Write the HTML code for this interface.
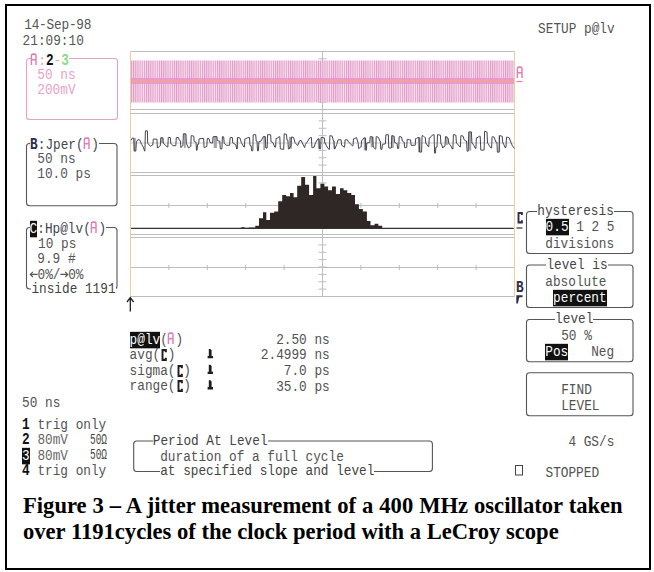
<!DOCTYPE html>
<html><head><meta charset="utf-8"><style>
html,body{margin:0;padding:0;background:#fff;width:654px;height:572px;overflow:hidden}
#frame{position:absolute;left:5px;top:4px;width:642px;height:562px;border:2px solid #000}
svg{position:absolute;left:0;top:0}
.t{position:absolute;font-family:"Liberation Mono",monospace;font-size:12.75px;line-height:12.75px;white-space:pre;transform:scaleY(1.1);transform-origin:0 9.77px}
.t b{font-weight:bold}
.inv{background:#111;color:#fff}
.g{position:relative;display:inline-block;width:1ch}
.bb{display:inline-block;transform:scaleY(1.14);transform-origin:50% 9.77px}
.cap{position:absolute;left:23px;font-family:"Liberation Serif",serif;font-weight:bold;font-size:22.6px;white-space:pre;color:#000;line-height:26px}
</style></head><body>
<div id="frame"></div>
<svg width="654" height="572" viewBox="0 0 654 572">
<line x1="130.5" y1="51.5" x2="514.5" y2="51.5" stroke="#bdbdbd" stroke-width="1" />
<line x1="130.5" y1="109.5" x2="514.5" y2="109.5" stroke="#bdbdbd" stroke-width="1" />
<line x1="318.5" y1="58.75" x2="326.5" y2="58.75" stroke="#bdbdbd" stroke-width="1" />
<line x1="318.5" y1="66.0" x2="326.5" y2="66.0" stroke="#bdbdbd" stroke-width="1" />
<line x1="318.5" y1="73.25" x2="326.5" y2="73.25" stroke="#bdbdbd" stroke-width="1" />
<line x1="318.5" y1="80.5" x2="326.5" y2="80.5" stroke="#bdbdbd" stroke-width="1" />
<line x1="318.5" y1="87.75" x2="326.5" y2="87.75" stroke="#bdbdbd" stroke-width="1" />
<line x1="318.5" y1="95.0" x2="326.5" y2="95.0" stroke="#bdbdbd" stroke-width="1" />
<line x1="318.5" y1="102.25" x2="326.5" y2="102.25" stroke="#bdbdbd" stroke-width="1" />
<line x1="130.5" y1="113.5" x2="514.5" y2="113.5" stroke="#bdbdbd" stroke-width="1" />
<line x1="130.5" y1="172.5" x2="514.5" y2="172.5" stroke="#bdbdbd" stroke-width="1" />
<line x1="318.5" y1="120.875" x2="326.5" y2="120.875" stroke="#bdbdbd" stroke-width="1" />
<line x1="318.5" y1="128.25" x2="326.5" y2="128.25" stroke="#bdbdbd" stroke-width="1" />
<line x1="318.5" y1="135.625" x2="326.5" y2="135.625" stroke="#bdbdbd" stroke-width="1" />
<line x1="318.5" y1="143.0" x2="326.5" y2="143.0" stroke="#bdbdbd" stroke-width="1" />
<line x1="318.5" y1="150.375" x2="326.5" y2="150.375" stroke="#bdbdbd" stroke-width="1" />
<line x1="318.5" y1="157.75" x2="326.5" y2="157.75" stroke="#bdbdbd" stroke-width="1" />
<line x1="318.5" y1="165.125" x2="326.5" y2="165.125" stroke="#bdbdbd" stroke-width="1" />
<line x1="130.5" y1="175.5" x2="514.5" y2="175.5" stroke="#bdbdbd" stroke-width="1" />
<line x1="130.5" y1="234.5" x2="514.5" y2="234.5" stroke="#bdbdbd" stroke-width="1" />
<line x1="318.5" y1="182.875" x2="326.5" y2="182.875" stroke="#bdbdbd" stroke-width="1" />
<line x1="318.5" y1="190.25" x2="326.5" y2="190.25" stroke="#bdbdbd" stroke-width="1" />
<line x1="318.5" y1="197.625" x2="326.5" y2="197.625" stroke="#bdbdbd" stroke-width="1" />
<line x1="318.5" y1="205.0" x2="326.5" y2="205.0" stroke="#bdbdbd" stroke-width="1" />
<line x1="318.5" y1="212.375" x2="326.5" y2="212.375" stroke="#bdbdbd" stroke-width="1" />
<line x1="318.5" y1="219.75" x2="326.5" y2="219.75" stroke="#bdbdbd" stroke-width="1" />
<line x1="318.5" y1="227.125" x2="326.5" y2="227.125" stroke="#bdbdbd" stroke-width="1" />
<line x1="130.5" y1="237.5" x2="514.5" y2="237.5" stroke="#bdbdbd" stroke-width="1" />
<line x1="130.5" y1="296.5" x2="514.5" y2="296.5" stroke="#bdbdbd" stroke-width="1" />
<line x1="318.5" y1="244.875" x2="326.5" y2="244.875" stroke="#bdbdbd" stroke-width="1" />
<line x1="318.5" y1="252.25" x2="326.5" y2="252.25" stroke="#bdbdbd" stroke-width="1" />
<line x1="318.5" y1="259.625" x2="326.5" y2="259.625" stroke="#bdbdbd" stroke-width="1" />
<line x1="318.5" y1="267.0" x2="326.5" y2="267.0" stroke="#bdbdbd" stroke-width="1" />
<line x1="318.5" y1="274.375" x2="326.5" y2="274.375" stroke="#bdbdbd" stroke-width="1" />
<line x1="318.5" y1="281.75" x2="326.5" y2="281.75" stroke="#bdbdbd" stroke-width="1" />
<line x1="318.5" y1="289.125" x2="326.5" y2="289.125" stroke="#bdbdbd" stroke-width="1" />
<line x1="322.5" y1="51" x2="322.5" y2="297" stroke="#bdbdbd" stroke-width="1" />
<line x1="130.5" y1="205.5" x2="514.5" y2="205.5" stroke="#bdbdbd" stroke-width="1" />
<line x1="168.9" y1="203.0" x2="168.9" y2="208.0" stroke="#bdbdbd" stroke-width="1" />
<line x1="207.3" y1="203.0" x2="207.3" y2="208.0" stroke="#bdbdbd" stroke-width="1" />
<line x1="245.7" y1="203.0" x2="245.7" y2="208.0" stroke="#bdbdbd" stroke-width="1" />
<line x1="284.1" y1="203.0" x2="284.1" y2="208.0" stroke="#bdbdbd" stroke-width="1" />
<line x1="322.5" y1="203.0" x2="322.5" y2="208.0" stroke="#bdbdbd" stroke-width="1" />
<line x1="360.9" y1="203.0" x2="360.9" y2="208.0" stroke="#bdbdbd" stroke-width="1" />
<line x1="399.3" y1="203.0" x2="399.3" y2="208.0" stroke="#bdbdbd" stroke-width="1" />
<line x1="437.7" y1="203.0" x2="437.7" y2="208.0" stroke="#bdbdbd" stroke-width="1" />
<line x1="476.09999999999997" y1="203.0" x2="476.09999999999997" y2="208.0" stroke="#bdbdbd" stroke-width="1" />
<line x1="130.5" y1="267.5" x2="514.5" y2="267.5" stroke="#bdbdbd" stroke-width="1" />
<line x1="168.9" y1="265.0" x2="168.9" y2="270.0" stroke="#bdbdbd" stroke-width="1" />
<line x1="207.3" y1="265.0" x2="207.3" y2="270.0" stroke="#bdbdbd" stroke-width="1" />
<line x1="245.7" y1="265.0" x2="245.7" y2="270.0" stroke="#bdbdbd" stroke-width="1" />
<line x1="284.1" y1="265.0" x2="284.1" y2="270.0" stroke="#bdbdbd" stroke-width="1" />
<line x1="322.5" y1="265.0" x2="322.5" y2="270.0" stroke="#bdbdbd" stroke-width="1" />
<line x1="360.9" y1="265.0" x2="360.9" y2="270.0" stroke="#bdbdbd" stroke-width="1" />
<line x1="399.3" y1="265.0" x2="399.3" y2="270.0" stroke="#bdbdbd" stroke-width="1" />
<line x1="437.7" y1="265.0" x2="437.7" y2="270.0" stroke="#bdbdbd" stroke-width="1" />
<line x1="476.09999999999997" y1="265.0" x2="476.09999999999997" y2="270.0" stroke="#bdbdbd" stroke-width="1" />
<line x1="130.5" y1="51" x2="130.5" y2="297" stroke="#e9cfa2" stroke-width="1" />
<line x1="514.5" y1="51" x2="514.5" y2="297" stroke="#e9cfa2" stroke-width="1" />
<defs><pattern id="st" x="131" width="2.15" height="10" patternUnits="userSpaceOnUse"><rect width="2.15" height="10" fill="#fadcec"/><rect width="1" height="10" fill="#dc9cc8"/></pattern></defs>
<rect x="131" y="60.5" width="383" height="42" fill="url(#st)"/>
<rect x="131" y="78" width="383" height="6" fill="#ea8ec4" opacity="0.75"/>
<rect x="131" y="80.2" width="383" height="1.6" fill="#f2a68e" opacity="0.85"/>
<line x1="516.5" y1="81.5" x2="522.5" y2="81.5" stroke="#e27fb6" stroke-width="1.2" />
<line x1="131" y1="143" x2="514" y2="143" stroke="#bdbdbd" stroke-width="0.8" />
<rect x="133.7" y="138.0" width="2.1" height="13.0" fill="#a4a4ac"/>
<rect x="161.2" y="137.6" width="1.8" height="5.4" fill="#a4a4ac"/>
<rect x="183.9" y="133.8" width="1.8" height="14.2" fill="#a4a4ac"/>
<rect x="213.7" y="136.6" width="3.2" height="11.4" fill="#a4a4ac"/>
<rect x="236.7" y="137.5" width="1.4" height="11.4" fill="#a4a4ac"/>
<rect x="263.3" y="136.6" width="1.8" height="13.3" fill="#a4a4ac"/>
<rect x="289.0" y="137.0" width="2.8" height="11.9" fill="#a4a4ac"/>
<rect x="317.9" y="138.8" width="1.8" height="10.1" fill="#a4a4ac"/>
<rect x="333.6" y="140.7" width="1.3" height="8.2" fill="#a4a4ac"/>
<rect x="363.8" y="137.9" width="2.3" height="12.4" fill="#a4a4ac"/>
<rect x="370.7" y="136.6" width="2.7" height="10.5" fill="#a4a4ac"/>
<rect x="391.5" y="135.6" width="2.2" height="12.4" fill="#a4a4ac"/>
<rect x="418.0" y="137.5" width="2.7" height="14.6" fill="#a4a4ac"/>
<rect x="469.0" y="131.9" width="2.2" height="18.7" fill="#a4a4ac"/>
<rect x="498.5" y="135.6" width="1.6" height="16.6" fill="#a4a4ac"/>
<rect x="446.0" y="136.6" width="1.8" height="8.4" fill="#a4a4ac"/>
<polyline points="131.2,140.4 132.4,137.9 133.7,138.2 133.8,138.2 134.2,151.1 134.3,151.1 135.8,151.1 136.4,141.9 138.0,139.5 139.8,140.1 141.6,144.3 143.1,146.8 144.7,151.1 144.9,151.1 145.4,130.9 145.6,130.9 147.4,130.9 147.7,143.4 150.5,146.2 152.6,145.0 152.8,145.0 153.3,139.1 153.5,139.1 156.6,139.1 156.9,139.1 157.4,148.0 157.8,148.0 160.0,145.6 160.3,145.6 160.8,137.6 161.2,137.6 163.0,137.9 163.3,143.1 167.3,147.1 167.8,147.1 168.3,137.5 168.8,137.5 170.1,137.5 170.3,137.5 170.8,143.4 171.0,143.4 172.9,145.7 175.6,145.7 175.8,145.7 176.3,137.5 176.6,137.5 178.4,137.5 179.3,140.2 180.2,140.7 180.4,140.7 180.9,147.6 181.1,147.6 182.5,145.7 182.9,145.7 183.4,133.8 183.9,133.8 185.7,133.8 185.9,133.8 186.4,143.9 186.6,143.9 188.5,148.0 190.3,146.6 190.8,146.6 191.2,135.6 191.7,135.6 193.5,136.1 193.7,136.1 194.2,141.6 194.4,141.6 195.8,142.1 196.0,142.1 196.5,150.3 196.7,150.3 197.1,150.3 197.6,144.3 198.1,144.3 198.6,144.3 199.1,138.8 199.5,138.8 203.2,138.4 203.6,138.4 204.1,147.6 204.5,147.6 206.4,146.6 206.8,146.6 207.3,138.4 207.7,138.4 209.1,138.8 210.0,142.5 211.9,143.0 212.6,143.0 213.1,136.6 213.7,136.6 216.9,136.6 217.4,140.7 219.2,141.1 219.8,141.1 220.3,148.9 221.0,148.9 221.9,148.9 222.4,136.6 223.3,136.6 223.6,137.0 223.7,137.0 224.2,143.4 224.3,143.4 226.6,145.3 229.3,145.3 229.6,145.3 230.1,137.5 230.3,137.5 232.1,137.5 232.3,137.5 232.8,143.0 233.0,143.0 235.8,144.8 236.7,148.9 237.1,148.9 237.6,137.5 238.1,137.5 239.9,137.9 241.3,142.5 243.1,145.7 244.0,147.1 244.4,147.1 244.9,138.8 245.4,138.8 247.2,137.9 249.1,137.5 249.5,137.5 250.0,145.7 250.4,145.7 251.1,145.7 251.6,150.8 252.3,150.8 252.8,150.8 253.2,134.7 253.7,134.7 255.5,134.7 255.7,134.7 256.2,141.1 256.4,141.1 257.0,141.1 257.5,150.8 258.2,150.8 258.4,150.8 258.9,141.6 259.2,141.6 261.0,141.1 263.3,136.6 265.1,136.6 265.3,136.6 265.8,148.0 266.0,148.0 267.1,148.0 267.6,134.7 268.8,134.7 270.2,134.7 270.6,134.7 271.1,141.9 271.5,141.9 272.9,142.5 274.8,147.1 275.6,147.1 276.1,138.4 277.0,138.4 279.3,136.6 279.8,136.6 280.3,148.9 280.8,148.9 283.5,149.4 283.7,149.4 284.2,133.8 284.4,133.8 286.3,134.3 286.5,134.3 287.0,140.2 287.2,140.2 287.9,140.2 288.4,148.9 289.0,148.9 290.4,146.6 290.9,146.6 291.4,137.0 291.8,137.0 293.6,137.5 295.0,142.5 297.7,145.7 299.6,140.7 301.4,140.7 302.3,143.0 304.6,147.6 305.5,144.3 307.8,141.1 309.7,137.9 311.0,137.5 311.4,137.5 311.9,147.6 312.4,147.6 314.2,147.1 315.6,142.5 317.9,138.8 318.8,138.8 319.0,138.8 319.5,148.9 319.7,148.9 320.6,148.9 321.1,137.5 322.0,137.5 323.9,137.9 324.3,137.9 324.8,143.0 325.2,143.0 326.6,146.2 328.9,149.4 329.4,149.4 329.9,135.6 330.3,135.6 332.1,136.1 333.5,141.1 333.9,141.1 334.4,148.9 334.9,148.9 336.8,144.3 338.1,139.8 340.9,139.8 341.1,139.8 341.6,145.3 341.8,145.3 344.1,147.1 344.6,147.1 345.1,139.8 345.5,139.8 347.3,139.8 348.7,142.1 352.3,145.7 353.0,145.7 353.5,138.8 354.2,138.8 356.5,137.5 357.9,142.5 358.1,142.5 358.6,148.5 358.8,148.5 360.6,147.1 361.1,147.1 361.6,140.7 362.0,140.7 363.8,137.9 365.2,137.9 365.4,137.9 365.9,150.3 366.1,150.3 366.3,150.3 366.8,143.0 367.0,143.0 369.3,142.5 369.8,142.5 370.2,136.6 370.7,136.6 372.5,137.0 372.7,137.0 373.2,147.1 373.4,147.1 375.3,148.9 375.8,148.9 376.2,136.6 376.7,136.6 378.5,137.5 379.9,141.1 380.3,141.1 380.8,149.4 381.2,149.4 381.9,149.4 382.4,144.3 383.1,144.3 384.9,143.9 385.4,143.9 385.9,134.7 386.3,134.7 388.1,134.7 388.3,134.7 388.8,148.0 389.0,148.0 391.3,148.0 391.8,135.6 393.7,136.1 394.1,136.1 394.6,142.5 395.0,142.5 396.4,143.4 397.1,143.4 397.6,148.5 398.3,148.5 398.7,148.5 399.2,136.6 399.6,136.6 401.5,137.0 402.4,141.1 403.8,142.1 404.2,142.1 404.7,147.6 405.1,147.6 406.5,147.6 406.7,147.6 407.2,139.3 407.4,139.3 409.7,139.8 410.6,139.8 411.1,145.3 412.0,145.3 414.3,145.3 415.2,145.3 415.7,138.4 416.6,138.4 418.0,137.5 419.1,137.5 419.6,152.1 420.7,152.1 421.6,152.1 422.1,135.6 423.0,135.6 424.9,137.5 425.3,137.5 425.8,143.4 426.2,143.4 428.1,146.6 428.8,146.6 429.2,137.9 429.9,137.9 432.2,135.2 433.6,134.7 434.1,134.7 434.6,153.1 435.0,153.1 435.4,153.1 435.9,147.1 436.3,147.1 437.0,147.1 437.5,134.7 438.2,134.7 440.0,135.2 440.4,135.2 440.9,143.9 441.4,143.9 442.8,148.0 444.1,146.2 445.0,146.2 445.5,136.6 446.4,136.6 447.8,138.4 448.2,138.4 448.8,143.7 449.2,143.7 450.8,145.8 452.4,149.0 452.9,149.0 453.4,134.6 454.0,134.6 455.6,135.1 455.9,135.1 456.4,143.1 456.7,143.1 459.9,146.9 460.4,146.9 460.9,135.6 461.5,135.6 463.1,136.2 464.2,139.9 465.8,141.0 466.6,141.0 467.1,151.2 468.0,151.2 468.2,151.2 468.8,131.9 469.0,131.9 471.2,131.9 471.4,131.9 471.9,143.1 472.2,143.1 473.8,145.3 475.4,148.5 475.9,148.5 476.4,137.8 477.0,137.8 479.7,136.2 480.2,136.2 480.8,150.1 481.3,150.1 483.5,150.1 484.1,150.1 484.6,131.4 485.1,131.4 486.7,131.9 487.0,131.9 487.5,143.1 487.8,143.1 489.4,145.8 491.0,148.0 491.6,148.0 492.1,136.7 492.6,136.7 494.2,137.2 495.8,142.1 496.9,142.1 497.4,152.2 498.5,152.2 499.1,152.2 499.6,135.6 500.1,135.6 501.7,136.2 502.2,136.2 502.8,143.1 503.3,143.1 504.9,147.4 506.0,147.4 506.5,137.2 507.6,137.2 509.2,137.8 510.8,142.1 512.4,145.8 514.5,148.5" fill="none" stroke="#45454f" stroke-width="1" stroke-linejoin="bevel"/>
<polygon points="131.0,228.0 240.0,228.0 243.0,227.0 246.0,228.0 250.0,227.5 255.3,227.5 255.3,225.7 259.0,225.7 259.0,218.3 263.0,218.3 263.0,212.2 266.3,212.2 266.3,219.9 270.0,219.9 270.0,212.8 274.2,212.8 274.2,211.6 278.2,211.6 278.2,201.2 282.2,201.2 282.2,195.1 286.2,195.1 286.2,196.3 290.0,196.3 290.0,193.0 293.6,193.0 293.6,197.2 297.2,197.2 297.2,185.7 301.2,185.7 301.2,177.1 305.1,177.1 305.1,184.7 309.1,184.7 309.1,195.1 313.1,195.1 313.1,175.9 316.4,175.9 316.4,188.3 320.4,188.3 320.4,183.7 324.4,183.7 324.4,186.5 328.1,186.5 328.1,190.2 332.0,190.2 332.0,186.5 335.9,186.5 335.9,193.9 340.0,193.9 340.0,188.3 343.6,188.3 343.6,190.2 347.3,190.2 347.3,193.0 351.3,193.0 351.3,195.1 355.0,195.1 355.0,204.3 358.9,204.3 358.9,208.9 362.8,208.9 362.8,211.6 366.9,211.6 366.9,221.1 370.5,221.1 370.5,225.3 374.6,225.3 374.6,223.8 378.3,223.8 378.3,225.7 382.2,225.7 382.2,228.0 514.0,228.0 514.0,228.8 131.0,228.8" fill="#2f2626"/>
<line x1="131" y1="228.3" x2="513" y2="228.3" stroke="#333" stroke-width="1.2" />
<line x1="516.5" y1="228" x2="522.5" y2="228" stroke="#2e2e48" stroke-width="1.2" />
<polygon points="516.3,295.3 522.6,295.3 522.6,296.9 519.2,297.6 517.9,303.6 516.3,303.6" fill="#2e2e48"/>
<path d="M30.3 274.4 H37.6 M32.9 271.8 L30.3 274.4 L32.9 277 M60.4 274.4 H67.8 M65.2 271.8 L67.8 274.4 L65.2 277" stroke="#555" stroke-width="1.1" fill="none"/>
<path d="M208.8 349.0 h1.6 l1.2 1.3 v5.6 h1.4 v2.3 h-5.4 v-2.3 h1.2 z" fill="#1e1e1e"/>
<path d="M208.8 364.8 h1.6 l1.2 1.3 v5.6 h1.4 v2.3 h-5.4 v-2.3 h1.2 z" fill="#1e1e1e"/>
<path d="M208.8 380.2 h1.6 l1.2 1.3 v5.6 h1.4 v2.3 h-5.4 v-2.3 h1.2 z" fill="#1e1e1e"/>
<path d="M130.3 298 V311.5 M127 302 L130.3 297.5 L133.6 302" stroke="#222" stroke-width="1.3" fill="none"/>
<rect x="26.5" y="58.5" width="91.0" height="61.0" rx="3" fill="none" stroke="#e6a3c7" stroke-width="1.1"/>
<rect x="26.5" y="143.5" width="90.5" height="62.30000000000001" rx="3" fill="none" stroke="#55555f" stroke-width="1.1"/>
<rect x="26.5" y="227.5" width="90.5" height="61.5" rx="3" fill="none" stroke="#55555f" stroke-width="1.1"/>
<rect x="526.5" y="211.5" width="106.5" height="42.0" rx="3" fill="none" stroke="#555" stroke-width="1.1"/>
<rect x="526.5" y="265" width="106.5" height="42.5" rx="3" fill="none" stroke="#555" stroke-width="1.1"/>
<rect x="526.5" y="319.5" width="106.5" height="42.30000000000001" rx="3" fill="none" stroke="#555" stroke-width="1.1"/>
<rect x="526.5" y="372.8" width="106.5" height="43.0" rx="3" fill="none" stroke="#555" stroke-width="1.1"/>
<rect x="133.7" y="441" width="298.7" height="30.5" rx="3" fill="none" stroke="#555" stroke-width="1.1"/>
<rect x="515.5" y="465.5" width="7" height="9.5" fill="none" stroke="#444" stroke-width="1"/>
</svg>
<div class="t" style="left:24.2px;top:20.4px;color:#555555;letter-spacing:-0.2px;">14-Sep-98</div>
<div class="t" style="left:22.6px;top:36.0px;color:#555555;">21:09:10</div>
<div class="t" style="left:538.1px;top:24.3px;color:#555555;">SETUP p@lv</div>
<div class="t" style="left:30.6px;top:56.0px;color:#555555;background:#fff;"><span class="g"> <svg width="8" height="11.6" viewBox="0 0 8 11.6" style="position:absolute;left:-0.4px;top:-2.33px;overflow:visible"><path d="M1.4 11.1 V2.6 Q1.4 1.2 2.8 1.2 H4.6 Q6 1.2 6 2.6 V11.1 M1.4 6.3 H6" stroke="#e27fb6" stroke-width="1.45" fill="none"/></svg></span><span style="color:#e8a2c8">:</span><b class="bb" style="color:#111">2</b><span style="color:#e8a2c8">-</span><b class="bb" style="color:#8ddc8d">3</b></div>
<div class="t" style="left:37.3px;top:70.3px;color:#e8a2c8;">50 ns</div>
<div class="t" style="left:37.3px;top:85.1px;color:#e8a2c8;">200mV</div>
<div class="t" style="left:30.1px;top:139.6px;color:#444450;background:#fff;"><b class="bb" style="color:#2e2e48">B</b>:Jper(<span class="g"> <svg width="8" height="11.6" viewBox="0 0 8 11.6" style="position:absolute;left:-0.4px;top:-2.33px;overflow:visible"><path d="M1.4 11.1 V2.6 Q1.4 1.2 2.8 1.2 H4.6 Q6 1.2 6 2.6 V11.1 M1.4 6.3 H6" stroke="#e27fb6" stroke-width="1.45" fill="none"/></svg></span>)</div>
<div class="t" style="left:37.3px;top:153.7px;color:#555560;">50 ns</div>
<div class="t" style="left:37.3px;top:168.9px;color:#555560;">10.0 ps</div>
<div class="t" style="left:29.6px;top:223.8px;color:#444450;background:#fff;"><span class="inv">C</span>:Hp@lv(<span class="g"> <svg width="8" height="11.6" viewBox="0 0 8 11.6" style="position:absolute;left:-0.4px;top:-2.33px;overflow:visible"><path d="M1.4 11.1 V2.6 Q1.4 1.2 2.8 1.2 H4.6 Q6 1.2 6 2.6 V11.1 M1.4 6.3 H6" stroke="#e27fb6" stroke-width="1.45" fill="none"/></svg></span>)</div>
<div class="t" style="left:38.1px;top:238.7px;color:#555;">10 ps</div>
<div class="t" style="left:37.3px;top:254.1px;color:#555;">9.9 #</div>
<div class="t" style="left:29.9px;top:269.7px;color:#555;"> 0%/ 0%</div>
<div class="t" style="left:31.4px;top:284.1px;color:#444;background:#fff;">inside 1191</div>
<div class="t" style="left:129.6px;top:334.5px;color:#525252;"><span class="inv">p@lv</span>(<span class="g"> <svg width="8" height="11.6" viewBox="0 0 8 11.6" style="position:absolute;left:-0.4px;top:-2.33px;overflow:visible"><path d="M1.4 11.1 V2.6 Q1.4 1.2 2.8 1.2 H4.6 Q6 1.2 6 2.6 V11.1 M1.4 6.3 H6" stroke="#e27fb6" stroke-width="1.45" fill="none"/></svg></span>)</div>
<div class="t" style="left:129.6px;top:349.7px;color:#525252;">avg(<span class="g"> <svg width="8" height="10.9" viewBox="0 0 8 10.9" style="position:absolute;left:0;top:-0.13px;overflow:visible"><path d="M5.9 3.0 V1.0 H2.5 V9.9 H5.9 V7.9" stroke="#1e1e1e" stroke-width="1.9" fill="none"/></svg></span>)</div>
<div class="t" style="left:129.6px;top:365.5px;color:#525252;">sigma(<span class="g"> <svg width="8" height="10.9" viewBox="0 0 8 10.9" style="position:absolute;left:0;top:-0.13px;overflow:visible"><path d="M5.9 3.0 V1.0 H2.5 V9.9 H5.9 V7.9" stroke="#1e1e1e" stroke-width="1.9" fill="none"/></svg></span>)</div>
<div class="t" style="left:129.6px;top:380.7px;color:#525252;">range(<span class="g"> <svg width="8" height="10.9" viewBox="0 0 8 10.9" style="position:absolute;left:0;top:-0.13px;overflow:visible"><path d="M5.9 3.0 V1.0 H2.5 V9.9 H5.9 V7.9" stroke="#1e1e1e" stroke-width="1.9" fill="none"/></svg></span>)</div>
<div class="t" style="right:324.3px;top:334.9px;color:#525252;text-align:right">2.50 ns</div>
<div class="t" style="right:324.3px;top:350.3px;color:#525252;text-align:right">2.4999 ns</div>
<div class="t" style="right:324.3px;top:365.5px;color:#525252;text-align:right">7.0 ps</div>
<div class="t" style="right:324.3px;top:381.5px;color:#525252;text-align:right">35.0 ps</div>
<div class="t" style="left:22.1px;top:397.8px;color:#525252;">50 ns</div>
<div class="t" style="left:22.1px;top:419.6px;color:#525252;"><b class="bb" style="color:#111">1</b> trig only</div>
<div class="t" style="left:22.1px;top:435.3px;color:#525252;"><b class="bb" style="color:#111">2</b> <span style="color:#666">80mV</span></div>
<div class="t" style="left:22.1px;top:451.2px;color:#525252;"><span class="inv">3</span> <span style="color:#666">80mV</span></div>
<div class="t" style="left:22.1px;top:465.7px;color:#525252;"><b class="bb" style="color:#111">4</b> trig only</div>
<div class="t" style="left:90.4px;top:435.9px;color:#444;font-size:11px;line-height:11px;transform:scale(0.86,1.3);transform-origin:0 8.4px;">50&#937;</div>
<div class="t" style="left:90.4px;top:451.2px;color:#444;font-size:11px;line-height:11px;transform:scale(0.86,1.3);transform-origin:0 8.4px;">50&#937;</div>
<div class="t" style="left:152.8px;top:436.1px;color:#444;background:#fff;">Period At Level</div>
<div class="t" style="left:160.2px;top:451.5px;color:#525252;">duration of a full cycle</div>
<div class="t" style="left:160.2px;top:466.4px;color:#444;background:#fff;">at specified slope and level</div>
<div class="t" style="left:568.4px;top:436.9px;color:#525252;">4 GS/s</div>
<div class="t" style="left:545.5px;top:467.9px;color:#525252;">STOPPED</div>
<div class="t" style="left:537.3px;top:205.9px;color:#444;background:#fff;">hysteresis</div>
<div class="t" style="left:545.6px;top:222.3px;color:#525252;"><span class="inv">0.5</span> 1 2 5</div>
<div class="t" style="left:545.3px;top:239.2px;color:#525252;">divisions</div>
<div class="t" style="left:546.4px;top:260.3px;color:#444;background:#fff;">level is</div>
<div class="t" style="left:545.3px;top:276.7px;color:#525252;">absolute</div>
<div class="t" style="left:553.1px;top:292.7px;color:#525252;"><span class="inv">percent</span></div>
<div class="t" style="left:555.1px;top:313.7px;color:#444;background:#fff;">level</div>
<div class="t" style="left:561.2px;top:330.9px;color:#525252;">50 %</div>
<div class="t" style="left:545.3px;top:346.6px;color:#525252;"><span class="inv">Pos</span>   Neg</div>
<div class="t" style="left:561.2px;top:384.9px;color:#525252;">FIND</div>
<div class="t" style="left:561.2px;top:401.2px;color:#525252;">LEVEL</div>
<div class="t" style="left:516.1px;top:69.1px;color:#555555;"><span class="g"> <svg width="8" height="11.6" viewBox="0 0 8 11.6" style="position:absolute;left:-0.4px;top:-2.33px;overflow:visible"><path d="M1.4 11.1 V2.6 Q1.4 1.2 2.8 1.2 H4.6 Q6 1.2 6 2.6 V11.1 M1.4 6.3 H6" stroke="#e27fb6" stroke-width="1.45" fill="none"/></svg></span></div>
<div class="t" style="left:516.1px;top:214.7px;color:#555555;"><span class="g"> <svg width="8" height="10.6" viewBox="0 0 8 10.6" style="position:absolute;left:0;top:-1.83px;overflow:visible"><path d="M5.9 3.0 V1.0 H2.5 V9.6 H5.9 V7.6" stroke="#2e2e48" stroke-width="1.9" fill="none"/></svg></span></div>
<div class="t" style="left:516.1px;top:283.0px;color:#555555;"><b class="bb" style="color:#2e2e48">B</b></div>
<div class="cap" style="top:493px"><span style="word-spacing:0.3px">Figure 3 – A jitter measurement of a 400 MHz oscillator taken</span><br>over 1191cycles of the clock period with a LeCroy scope</div>
</body></html>
